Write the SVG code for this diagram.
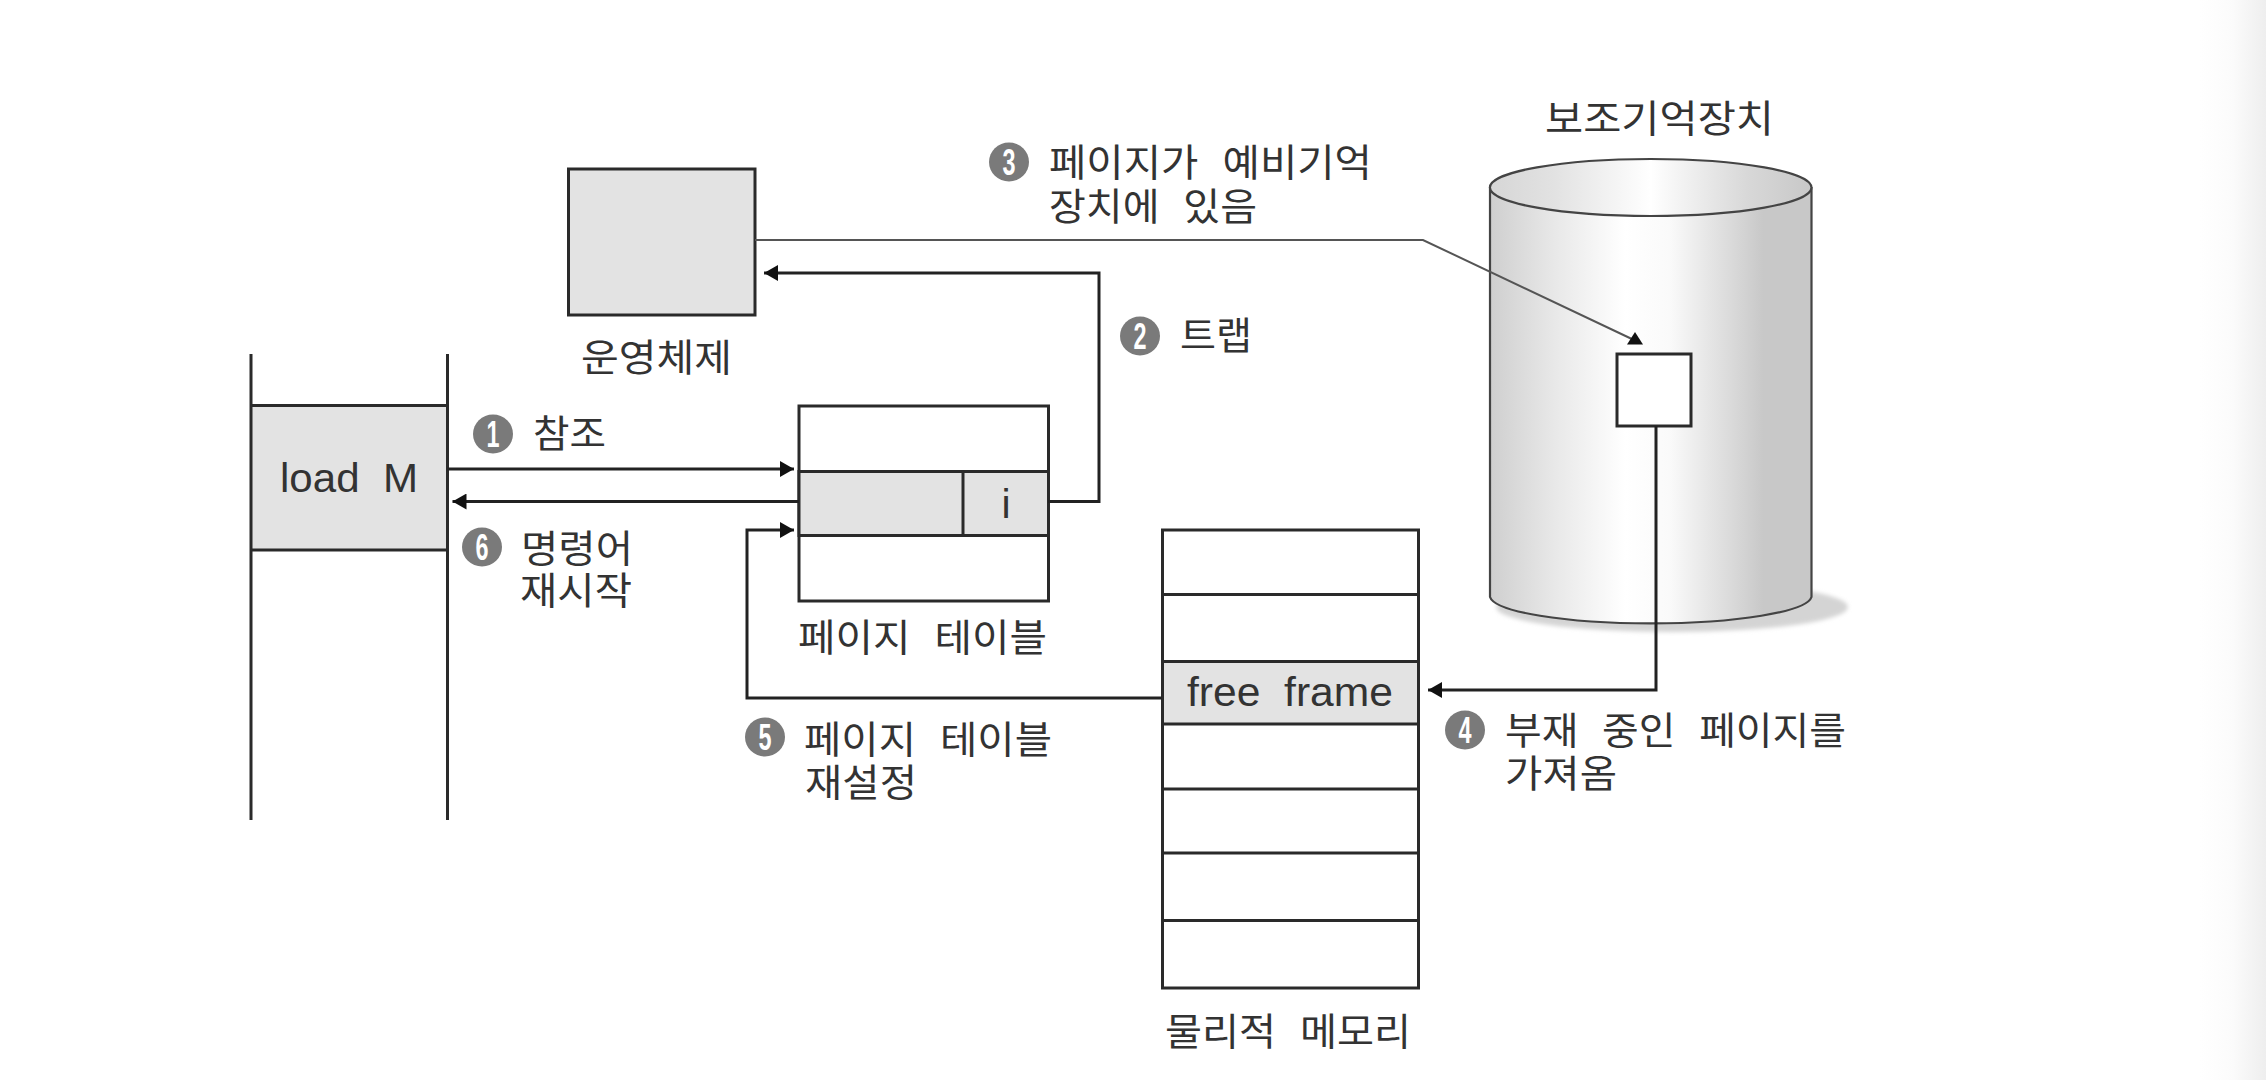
<svg xmlns="http://www.w3.org/2000/svg" width="2266" height="1080" viewBox="0 0 2266 1080">
<style>
.box{stroke:#2a2a2a;stroke-width:3;fill:#fff}
.gray{fill:#e3e3e3;stroke:#2a2a2a;stroke-width:3}
.ln{stroke:#2a2a2a;stroke-width:3;fill:none}
.con{stroke:#222;stroke-width:3;fill:none}
.thin{stroke:#555;stroke-width:2;fill:none}
.ko{font-family:"Noto Sans CJK KR","Liberation Sans",sans-serif;font-size:38px;fill:#333}
.ws{word-spacing:14px}
.en{font-family:"Liberation Sans",sans-serif;font-size:41px;fill:#333}
.bd{fill:#7a7a7a}
.num{font-family:"Liberation Sans",sans-serif;font-weight:bold;font-size:37px;fill:#fff;text-anchor:middle}
</style>
<defs>
<marker id="ah" markerUnits="userSpaceOnUse" markerWidth="15" markerHeight="16" refX="14" refY="8" orient="auto"><path d="M0 0L14 8L0 16Z" fill="#111"/></marker>
<linearGradient id="body" x1="0" x2="1" y1="0" y2="0"><stop offset="0" stop-color="#cfcfcf"/><stop offset=".2" stop-color="#e8e8e8"/><stop offset=".42" stop-color="#fff"/><stop offset=".56" stop-color="#fafafa"/><stop offset=".75" stop-color="#dadada"/><stop offset=".85" stop-color="#c8c8c8"/><stop offset="1" stop-color="#c8c8c8"/></linearGradient>
<linearGradient id="top" x1="0" x2="1" y1="0" y2="0"><stop offset="0" stop-color="#d6d6d6"/><stop offset=".2" stop-color="#e2e2e2"/><stop offset=".5" stop-color="#fff"/><stop offset=".8" stop-color="#d8d8d8"/><stop offset="1" stop-color="#c8c8c8"/></linearGradient>
<linearGradient id="edge" x1="0" x2="1" y1="0" y2="0"><stop offset="0" stop-color="#fff"/><stop offset=".5" stop-color="#fbfbfb"/><stop offset="1" stop-color="#eeeeee"/></linearGradient>
<filter id="soft" x="-10%" y="-30%" width="120%" height="160%"><feGaussianBlur stdDeviation="2"/></filter>
</defs>
<rect width="2266" height="1080" fill="#fff"/>
<rect x="2200" y="0" width="66" height="1080" fill="url(#edge)"/>

<g id="disk">
<ellipse cx="1672" cy="607" rx="176" ry="25" fill="#d4d4d4" filter="url(#soft)"/>
<path d="M1490 188V597A161 28 0 0 0 1811.500 597V188Z" fill="url(#body)" stroke="#444" stroke-width="2.200"/>
<ellipse cx="1650.700" cy="187.500" rx="160.800" ry="28.500" fill="url(#top)" stroke="#444" stroke-width="2.200"/>
<rect class="box" x="1617" y="354" width="74" height="72"/>
<text class="ko" x="1545" y="132" textLength="229" lengthAdjust="spacingAndGlyphs">보조기억장치</text>
</g>

<g id="process">
<rect x="251" y="406" width="196.500" height="144" fill="#e3e3e3"/>
<path class="ln" d="M251 354V820M447.500 354V820M251 405.500H447.500M251 550H447.500"/>
<text class="en" x="280" y="492" textLength="138" lengthAdjust="spacingAndGlyphs" xml:space="preserve">load  M</text>
</g>

<g id="os">
<rect class="gray" x="568.500" y="169" width="186.500" height="146"/>
<text class="ko" x="581" y="371" textLength="151" lengthAdjust="spacingAndGlyphs">운영체제</text>
</g>

<g id="page-table">
<rect class="box" x="799" y="406" width="249.500" height="195"/>
<rect class="gray" x="799" y="471.500" width="249.500" height="64"/>
<path class="ln" d="M963 471.500V535.500"/>
<text class="en" x="1006" y="518" text-anchor="middle">i</text>
<text class="ko ws" x="798" y="651" textLength="249" lengthAdjust="spacingAndGlyphs" xml:space="preserve">페이지 테이블</text>
</g>

<g id="memory">
<rect class="box" x="1162.500" y="530" width="256" height="458"/>
<rect class="gray" x="1162.500" y="661.500" width="256" height="62.500"/>
<path class="ln" d="M1162.500 594.500H1418.500M1162.500 789H1418.500M1162.500 853H1418.500M1162.500 920.500H1418.500"/>
<text class="en" x="1187" y="706" textLength="206" lengthAdjust="spacingAndGlyphs" xml:space="preserve">free  frame</text>
<text class="ko ws" x="1165" y="1045" textLength="246" lengthAdjust="spacingAndGlyphs" xml:space="preserve">물리적 메모리</text>
</g>

<g id="connectors">
<path class="con" d="M447.500 469H794" marker-end="url(#ah)"/>
<path class="con" d="M1048 501.500H1099V273H764" marker-end="url(#ah)"/>
<path class="thin" d="M755 240H1423L1634 340"/>
<polygon points="1635,332 1627,344.500 1643,344.500" fill="#111"/>
<path class="con" d="M1656 426V690H1428" marker-end="url(#ah)"/>
<path class="con" d="M1162 698H747V530H794" marker-end="url(#ah)"/>
<path class="con" d="M799 501.500H452.500" marker-end="url(#ah)"/>
</g>

<g id="step1"><ellipse class="bd" cx="493" cy="434" rx="20" ry="19.500"/><text class="num" x="493" y="447" textLength="13" lengthAdjust="spacingAndGlyphs">1</text>
<text class="ko" x="533" y="447" textLength="73" lengthAdjust="spacingAndGlyphs">참조</text></g>
<g id="step2"><ellipse class="bd" cx="1140" cy="336" rx="20" ry="19.500"/><text class="num" x="1140" y="349" textLength="13" lengthAdjust="spacingAndGlyphs">2</text>
<text class="ko" x="1180" y="349" textLength="72" lengthAdjust="spacingAndGlyphs">트랩</text></g>
<g id="step3"><ellipse class="bd" cx="1009" cy="162" rx="20" ry="19.500"/><text class="num" x="1009" y="175" textLength="13" lengthAdjust="spacingAndGlyphs">3</text>
<text class="ko ws" x="1049" y="176" textLength="323" lengthAdjust="spacingAndGlyphs" xml:space="preserve">페이지가 예비기억</text>
<text class="ko ws" x="1049" y="220" textLength="208" lengthAdjust="spacingAndGlyphs" xml:space="preserve">장치에 있음</text></g>
<g id="step4"><ellipse class="bd" cx="1465" cy="730" rx="20" ry="19.500"/><text class="num" x="1465" y="743" textLength="13" lengthAdjust="spacingAndGlyphs">4</text>
<text class="ko ws" x="1505" y="744" textLength="341" lengthAdjust="spacingAndGlyphs" xml:space="preserve">부재 중인 페이지를</text>
<text class="ko" x="1505" y="787" textLength="112" lengthAdjust="spacingAndGlyphs">가져옴</text></g>
<g id="step5"><ellipse class="bd" cx="765" cy="737" rx="20" ry="19.500"/><text class="num" x="765" y="750" textLength="13" lengthAdjust="spacingAndGlyphs">5</text>
<text class="ko ws" x="804" y="753" textLength="248" lengthAdjust="spacingAndGlyphs" xml:space="preserve">페이지 테이블</text>
<text class="ko" x="805" y="796" textLength="112" lengthAdjust="spacingAndGlyphs">재설정</text></g>
<g id="step6"><ellipse class="bd" cx="482" cy="547" rx="20" ry="19.500"/><text class="num" x="482" y="560" textLength="13" lengthAdjust="spacingAndGlyphs">6</text>
<text class="ko" x="521" y="562" textLength="112" lengthAdjust="spacingAndGlyphs">명령어</text>
<text class="ko" x="520" y="604" textLength="112" lengthAdjust="spacingAndGlyphs">재시작</text></g>
</svg>
